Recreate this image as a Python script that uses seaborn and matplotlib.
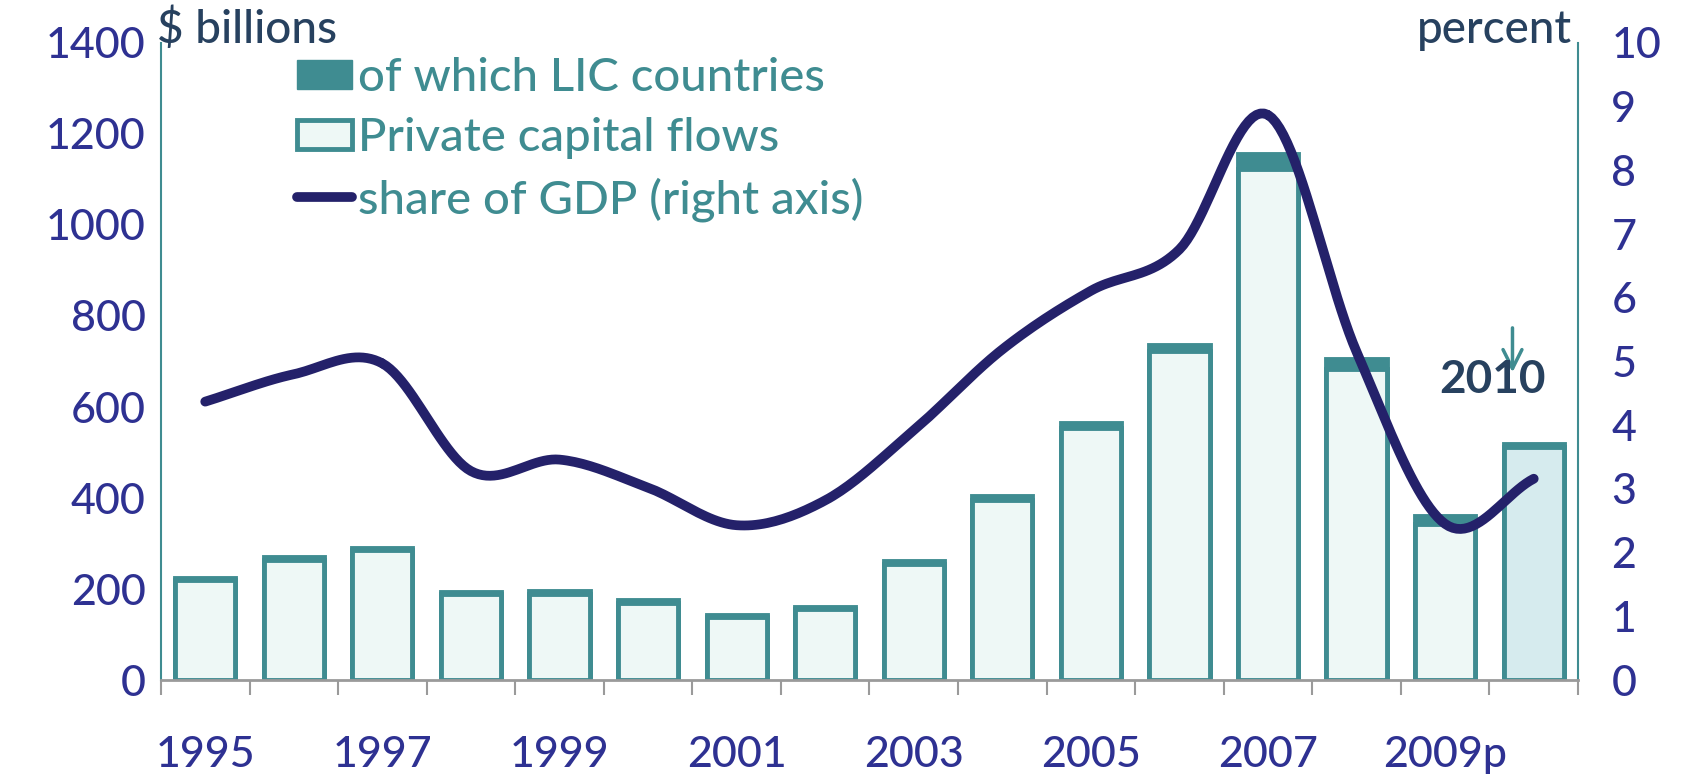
import numpy as np
import pandas as pd
import matplotlib
matplotlib.use("Agg")
import matplotlib.pyplot as plt
import seaborn as sns
from matplotlib.patches import Patch
from matplotlib.lines import Line2D

# ========== Data ==========
years = ['1995', '1996', '1997', '1998', '1999', '2000', '2001', '2002',
         '2003', '2004', '2005', '2006', '2007', '2008', '2009', '2010']
year_labels = ['1995', '', '1997', '', '1999', '', '2001', '', '2003', '',
               '2005', '', '2007', '', '2009p', '']
private_flows = [225, 270, 291, 194, 196, 175, 144, 161, 262, 404, 565, 736, 1157, 705, 360, 518]
lic_flows = [6, 6, 6, 6, 6, 6, 6, 6, 7, 9, 11, 14, 33, 22, 18, 6]
gdp_share = [4.37, 4.80, 4.97, 3.28, 3.46, 3.02, 2.43, 2.82, 3.92, 5.19, 6.11, 6.76, 8.87, 5.15, 2.45, 3.16]

# ========== Colours ==========
teal = '#3f8c91'
light = '#eef8f6'
light_2010 = '#d6ebee'
navy = '#24216a'
tick_blue = '#2e3192'
title_col = '#27415f'

sns.set_style('white')
plt.rcParams['font.family'] = ['Lato', 'DejaVu Sans']
plt.rcParams['font.weight'] = 'medium'

df = pd.DataFrame({'year': years, 'private': private_flows, 'lic': lic_flows})
df['excl'] = df['private'] - df['lic']

fig = plt.figure(figsize=(16.87, 7.77), dpi=100)
ax = fig.add_axes([0.0954, 0.1248, 0.8400, 0.8199])

# total bar in dark teal (LIC part shows on top), then the rest in light fill
sns.barplot(data=df, x='year', y='private', color=teal, width=0.68,
            edgecolor=teal, linewidth=3.5, saturation=1, ax=ax)
fills = [light] * (len(years) - 1) + [light_2010]
sns.barplot(data=df, x='year', y='excl', hue='year', palette=fills, legend=False,
            width=0.68, edgecolor=teal, linewidth=3.5, saturation=1, ax=ax)

ax.set_xlim(-0.5, len(years) - 0.5)
ax.set_ylim(0, 1400)
ax.set_yticks(range(0, 1401, 200))
ax.set_xlabel('')
ax.set_ylabel('')

# x ticks: marks at category boundaries, labels every other year
ax.set_xticks(range(len(years)))
ax.set_xticklabels(year_labels)
ax.set_xticks(np.arange(-0.5, len(years)), minor=True)
ax.tick_params(axis='x', which='major', bottom=True, length=0, pad=40, labelsize=31, labelcolor=tick_blue)
ax.tick_params(axis='x', which='minor', bottom=True, length=11, width=1.5, color='#9a9a9a', direction='out')
ax.tick_params(axis='y', length=0, pad=11, labelsize=31, labelcolor=tick_blue)

for side in ['left', 'right']:
    ax.spines[side].set_color(teal)
    ax.spines[side].set_linewidth(1.5)
ax.spines['top'].set_visible(False)
ax.spines['bottom'].set_color('#9a9a9a')
ax.spines['bottom'].set_linewidth(2)

# ========== Right axis: share of GDP (smoothed line) ==========
ax2 = ax.twinx()
ax2.set_ylim(0, 10)
ax2.set_yticks(range(0, 11))
ax2.tick_params(axis='y', length=0, pad=24, labelsize=31, labelcolor=tick_blue)
for s in ax2.spines.values():
    s.set_visible(False)


def catmull_rom(xs, ys, n=24):
    px = np.concatenate([[2 * xs[0] - xs[1]], xs, [2 * xs[-1] - xs[-2]]])
    py = np.concatenate([[2 * ys[0] - ys[1]], ys, [2 * ys[-1] - ys[-2]]])
    t = np.linspace(0, 1, n)
    out_x, out_y = [], []
    for i in range(1, len(px) - 2):
        for p, out in ((px, out_x), (py, out_y)):
            p0, p1, p2, p3 = p[i - 1], p[i], p[i + 1], p[i + 2]
            out.extend(0.5 * (2 * p1 + (-p0 + p2) * t + (2 * p0 - 5 * p1 + 4 * p2 - p3) * t ** 2
                              + (-p0 + 3 * p1 - 3 * p2 + p3) * t ** 3))
    return np.array(out_x), np.array(out_y)


sx, sy = catmull_rom(np.arange(len(years), dtype=float), np.array(gdp_share))
ax2.plot(sx, sy, color=navy, lw=7, solid_capstyle='round')

# ========== Text ==========
fig.text(0.093, 0.962, '$ billions', fontsize=33, color=title_col, ha='left', va='center')
fig.text(0.932, 0.962, 'percent', fontsize=33, color=title_col, ha='right', va='center')

ax.annotate('', xy=(14.76, 670), xytext=(14.76, 780),
            arrowprops=dict(arrowstyle='->', color=teal, lw=2.5, mutation_scale=34))
ax.text(14.53, 660, '2010', fontsize=33, fontweight='bold', color=title_col,
        ha='center', va='center')

handles = [Patch(facecolor=teal, edgecolor=teal),
           Patch(facecolor=light, edgecolor=teal, linewidth=3.5),
           Line2D([0], [0], color=navy, lw=7, solid_capstyle='round')]
labels = ['of which LIC countries', 'Private capital flows', 'share of GDP (right axis)']
leg = ax.legend(handles, labels, loc='upper left', bbox_to_anchor=(297 / 1687, 1 - 57 / 777),
                bbox_transform=fig.transFigure, frameon=False, fontsize=34,
                handlelength=1.17, handleheight=0.58, handletextpad=0.12,
                labelspacing=0.38, borderaxespad=0, borderpad=0)
for t in leg.get_texts():
    t.set_color(teal)

fig.savefig('out.png', dpi=100)
